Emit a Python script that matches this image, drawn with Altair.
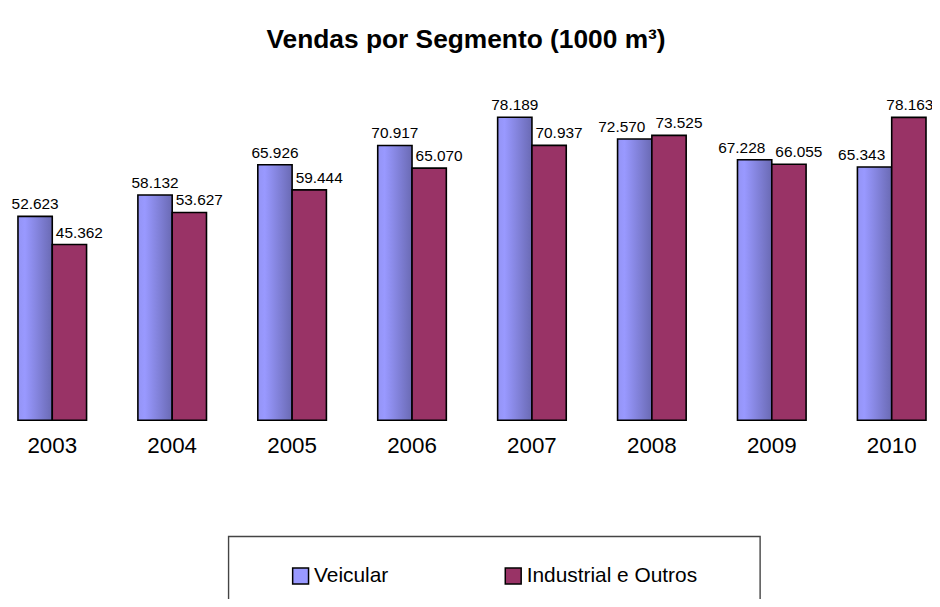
import altair as alt
import pandas as pd

years = ["2003", "2004", "2005", "2006", "2007", "2008", "2009", "2010"]
series = ["Veicular", "Industrial e Outros"]
veicular = [52.623, 58.132, 65.926, 70.917, 78.189, 72.570, 67.228, 65.343]
industrial = [45.362, 53.627, 59.444, 65.070, 70.937, 73.525, 66.055, 78.163]
colors = ["#9999ff", "#993366"]

rows = []
for i, y in enumerate(years):
    rows.append({"ano": y, "serie": series[0], "valor": veicular[i]})
    rows.append({"ano": y, "serie": series[1], "valor": industrial[i]})
df = pd.DataFrame(rows)

FONT = "Liberation Sans, Arial, sans-serif"

x = alt.X("ano:N", sort=years, title=None,
          scale=alt.Scale(paddingInner=0.428, paddingOuter=0.05),
          axis=alt.Axis(domain=False, ticks=False, labelAngle=0, labelFontSize=22.5,
                        labelFont=FONT, labelColor="black", labelPadding=14))
xo = alt.XOffset("serie:N", sort=series,
                 scale=alt.Scale(domain=series, paddingInner=0, paddingOuter=0))
y = alt.Y("valor:Q", title=None, axis=None,
          scale=alt.Scale(domain=[0, 80], nice=False, zero=True))

base = alt.Chart(df)

grad = alt.LinearGradient(
    gradient="linear", x1=0, x2=1, y1=0, y2=0,
    stops=[alt.GradientStop(color="#9494f4", offset=0),
           alt.GradientStop(color="#9999ff", offset=0.2),
           alt.GradientStop(color="#6a6ab4", offset=1)])

is_v = alt.datum.serie == series[0]
is_i = alt.datum.serie == series[1]
late = alt.FieldOneOfPredicate(field="ano", oneOf=["2008", "2009", "2010"])
early = alt.FieldOneOfPredicate(field="ano", oneOf=["2003", "2004", "2005", "2006", "2007"])
last = alt.FieldEqualPredicate(field="ano", equal="2010")
not_last = alt.FieldOneOfPredicate(field="ano", oneOf=years[:-1])

bars_v = base.transform_filter(is_v).mark_bar(
    fill=grad, stroke="black", strokeWidth=1.6
).encode(x=x, xOffset=xo, y=y)

bars_i = base.transform_filter(is_i).mark_bar(
    stroke="black", strokeWidth=1.6
).encode(
    x=x, xOffset=xo, y=y,
    color=alt.Color("serie:N", sort=series,
                    scale=alt.Scale(domain=series, range=colors),
                    legend=alt.Legend(
                        title=None, orient="none", legendX=280, legendY=458,
                        direction="horizontal", symbolType="square",
                        symbolSize=256, symbolStrokeColor="black",
                        symbolStrokeWidth=1.5, symbolOpacity=1,
                        labelFontSize=21, labelFont=FONT, labelColor="black",
                        labelOffset=3, columnPadding=114, padding=0,
                        labelLimit=400)))

def label_layer(pred_series, pred_year, dx):
    return base.transform_filter(pred_series).transform_filter(pred_year).mark_text(
        baseline="bottom", dy=-4, dx=dx, fontSize=15.5, font=FONT, color="black"
    ).encode(x=x, xOffset=xo, y=y, text=alt.Text("valor:Q", format=".3f"))

txt_v1 = label_layer(is_v, early, 0)
txt_v2 = label_layer(is_v, late, -13)
txt_i1 = label_layer(is_i, not_last, 10)
txt_i2 = label_layer(is_i, last, 1)

box = alt.Chart(pd.DataFrame({"k": [0]})).mark_rect(
    fill=None, stroke="#444444", strokeWidth=1.4
).encode(x=alt.value(218), x2=alt.value(753), y=alt.value(429), y2=alt.value(530))

chart = alt.layer(bars_v, bars_i, txt_v1, txt_v2, txt_i1, txt_i2, box).properties(
    width=926, height=312,
    title=alt.Title("Vendas por Segmento (1000 m³)", fontSize=26.5, fontWeight="bold",
                    font=FONT, color="black", anchor="middle", frame="group",
                    offset=45, dx=-6),
    autosize=alt.AutoSizeParams(type="none"),
    padding={"left": 4, "top": 101, "right": 0, "bottom": 178},
).configure(background="white").configure_view(stroke=None)

chart.save("out.html", embed_options={"renderer": "svg", "actions": False})
